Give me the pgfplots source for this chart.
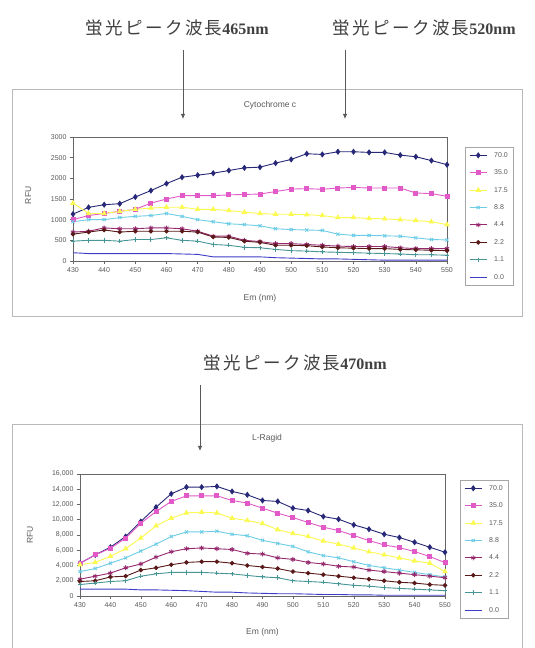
\documentclass[border=0pt]{standalone}
\usepackage{fontspec}
\setmainfont{Liberation Sans}
\newfontfamily\cjk[LetterSpace=14]{Noto Sans CJK JP}
\newfontfamily\serifnum{Liberation Serif}
\usepackage{pgfplots}
\usepackage{pgfplotstable}
\pgfplotsset{compat=1.18}
\usetikzlibrary{arrows.meta}

\definecolor{cA}{RGB}{40,40,120}
\definecolor{cB}{RGB}{225,90,200}
\definecolor{cC}{RGB}{250,250,80}
\definecolor{cD}{RGB}{110,205,230}
\definecolor{cE}{RGB}{150,40,110}
\definecolor{cF}{RGB}{90,25,25}
\definecolor{cG}{RGB}{70,150,150}
\definecolor{cH}{RGB}{60,60,200}
\definecolor{txt}{RGB}{90,90,90}

\pgfplotstableread{
x a70 a35 a17 a88 a44 a22 a11 a00
430 1135 1000 1400 950 700 650 480 200
435 1297 1100 1150 1000 720 700 500 180
440 1362 1150 1150 1000 800 750 500 180
445 1386 1200 1200 1050 780 700 480 180
450 1549 1250 1250 1080 780 720 520 180
455 1703 1400 1280 1100 800 720 520 180
460 1873 1500 1300 1150 800 720 560 180
465 2027 1580 1300 1080 780 720 500 170
470 2076 1580 1250 1000 720 700 480 160
475 2124 1580 1250 950 600 580 400 100
480 2189 1600 1220 900 600 570 380 100
485 2254 1610 1180 880 500 480 330 100
490 2270 1620 1150 850 470 450 320 100
495 2368 1680 1130 780 420 380 280 80
500 2457 1740 1130 760 420 380 250 70
505 2595 1750 1120 750 400 370 240 60
510 2578 1735 1100 740 380 340 220 50
515 2643 1765 1050 650 360 320 210 50
520 2643 1780 1050 620 350 310 200 40
525 2627 1765 1030 620 350 300 190 30
530 2627 1765 1020 610 350 300 180 20
535 2562 1765 1000 600 320 280 170 20
540 2522 1645 980 560 300 270 150 20
545 2430 1630 950 520 300 260 150 20
550 2330 1565 880 510 300 250 140 20
}\topdata

\pgfplotstableread{
x b70 b35 b17 b88 b44 b22 b11 b00
430 4290 4290 4100 3200 2200 1900 1500 900
435 5390 5390 4400 3600 2600 2000 1700 900
440 6400 6260 5200 4300 3000 2500 1900 900
445 7800 7580 6200 5000 3700 2600 2000 900
450 9770 9550 7600 5900 4200 3400 2600 800
455 11650 11080 9200 6800 5100 3700 2900 800
460 13400 12400 10200 7800 5800 4100 3100 750
465 14280 13140 10900 8400 6200 4400 3100 700
470 14280 13140 11000 8400 6300 4500 3100 600
475 14370 13140 10900 8500 6200 4500 3000 500
480 13710 12530 10200 8100 6100 4300 2900 500
485 13270 12180 9900 7900 5600 4000 2700 400
490 12530 11520 9500 7300 5500 3800 2500 350
495 12400 10860 8700 6900 5000 3600 2400 300
500 11520 10290 8200 6500 4800 3200 2000 300
505 11210 9640 7800 5800 4400 3000 1900 250
510 10420 9020 7200 5300 4200 2800 1800 200
515 10070 8590 6800 5000 3900 2600 1600 200
520 9330 7930 6300 4500 3800 2400 1400 150
525 8760 7270 5800 4000 3400 2200 1300 150
530 8100 6700 5400 3700 3200 2000 1100 100
535 7665 6350 5000 3400 3000 1800 1000 100
540 7050 5830 4600 3100 2800 1700 900 100
545 6395 5170 4300 2800 2600 1500 800 100
550 5740 4380 3200 2500 2400 1400 700 100
}\botdata

\pgfplotsset{
  exstyle/.style={
    scale only axis,
    xmin=430, xmax=550, xtick={430,440,...,550}, ymin=0,
    tick align=outside, major tick length=3pt,
    xtick pos=bottom, ytick pos=left,
    axis line style={gray!80!black, line width=0.6pt},
    tick style={gray!80!black, line width=0.5pt},
    ticklabel style={font=\fontsize{7}{8}\selectfont, text=txt},
    label style={font=\fontsize{8.5}{9}\selectfont, text=txt},
    /pgf/number format/assume math mode=true,
    scaled y ticks=false,
    legend cell align=left,
    legend style={draw=gray!70, fill=white, line width=0.6pt,
      font=\fontsize{7}{8}\selectfont, text=txt,
      nodes={inner sep=1pt, text height=5pt, text depth=1pt},
      row sep=9.4pt, inner xsep=4pt, inner ysep=4pt,
      /tikz/every odd column/.append style={column sep=6pt}},
    every axis plot/.append style={line width=0.9pt, mark options={solid}},
  },
  s70/.style={color=cA, mark=diamond*, mark size=2.4pt},
  s35/.style={color=cB, mark=square*, mark size=2pt},
  s17/.style={color=cC, mark=triangle*, mark size=2.4pt},
  s88/.style={color=cD, mark=x, mark size=2.2pt},
  s44/.style={color=cE, mark=asterisk, mark size=2.4pt},
  s22/.style={color=cF, mark=*, mark size=1.8pt},
  s11/.style={color=cG, mark=+, mark size=2.2pt},
  s00/.style={color=cH, no markers},
}

\begin{document}
\begin{tikzpicture}[x=1pt,y=1pt]
\path[use as bounding box] (0,0) rectangle (535,648);
\fill[white] (0,0) rectangle (535,648);

% frames
\draw[gray!55, line width=1pt] (12,331) rectangle (522,558);
\draw[gray!55, line width=1pt] (12,0) -- (12,223) -- (522,223) -- (522,0);

% annotations
\node[anchor=center, text=black!75, inner sep=0pt] at (177,620) {\cjk\fontsize{17.5}{18}\selectfont 蛍光ピーク波長\serifnum\bfseries\fontsize{16}{17}\selectfont 465nm};
\node[anchor=center, text=black!75, inner sep=0pt] at (424,620) {\cjk\fontsize{17.5}{18}\selectfont 蛍光ピーク波長\serifnum\bfseries\fontsize{16}{17}\selectfont 520nm};
\node[anchor=center, text=black!75, inner sep=0pt] at (295,285) {\cjk\fontsize{17.5}{18}\selectfont 蛍光ピーク波長\serifnum\bfseries\fontsize{16}{17}\selectfont 470nm};
\draw[black!65, line width=0.8pt, -{Latex[length=5pt,width=4.5pt]}] (183,598) -- (183,529);
\draw[black!65, line width=0.8pt, -{Latex[length=5pt,width=4.5pt]}] (345,598) -- (345,529);
\draw[black!65, line width=0.8pt, -{Latex[length=5pt,width=4.5pt]}] (200,263) -- (200,197);

\node[text=txt, font=\fontsize{8.5}{9}\selectfont] at (270,543) {Cytochrome c};
\node[text=txt, font=\fontsize{8.5}{9}\selectfont] at (267,210) {L-Ragid};

\begin{axis}[exstyle,
  at={(73pt,387pt)}, anchor=south west,
  width=374pt, height=124pt,
  ymax=3000, ytick={0,500,...,3000},
  yticklabel style={/pgf/number format/1000 sep={}},
  xlabel={Em (nm)}, ylabel={RFU},
  xlabel style={at={(axis description cs:0.5,-0.30)}, anchor=center},
  ylabel style={at={(axis description cs:-0.12,0.53)}, anchor=center},
  legend style={at={(1.048,0.919)}, anchor=north west},
]
\addplot[s70] table[x=x,y=a70] {\topdata};
\addplot[s35] table[x=x,y=a35] {\topdata};
\addplot[s17] table[x=x,y=a17] {\topdata};
\addplot[s88] table[x=x,y=a88] {\topdata};
\addplot[s44] table[x=x,y=a44] {\topdata};
\addplot[s22] table[x=x,y=a22] {\topdata};
\addplot[s11] table[x=x,y=a11] {\topdata};
\addplot[s00] table[x=x,y=a00] {\topdata};
\legend{70.0,35.0,17.5,8.8,4.4,2.2,1.1,0.0}
\end{axis}

\begin{axis}[exstyle,
  at={(80pt,52pt)}, anchor=south west,
  width=365pt, height=122pt,
  ymax=16000, ytick={0,2000,...,16000},
  yticklabel style={/pgf/number format/1000 sep={,}},
  xlabel={Em (nm)}, ylabel={RFU},
  xlabel style={at={(axis description cs:0.5,-0.30)}, anchor=center},
  ylabel style={at={(axis description cs:-0.137,0.5)}, anchor=center},
  legend style={at={(1.041,0.951)}, anchor=north west},
]
\addplot[s70] table[x=x,y=b70] {\botdata};
\addplot[s35] table[x=x,y=b35] {\botdata};
\addplot[s17] table[x=x,y=b17] {\botdata};
\addplot[s88] table[x=x,y=b88] {\botdata};
\addplot[s44] table[x=x,y=b44] {\botdata};
\addplot[s22] table[x=x,y=b22] {\botdata};
\addplot[s11] table[x=x,y=b11] {\botdata};
\addplot[s00] table[x=x,y=b00] {\botdata};
\legend{70.0,35.0,17.5,8.8,4.4,2.2,1.1,0.0}
\end{axis}
\end{tikzpicture}
\end{document}
